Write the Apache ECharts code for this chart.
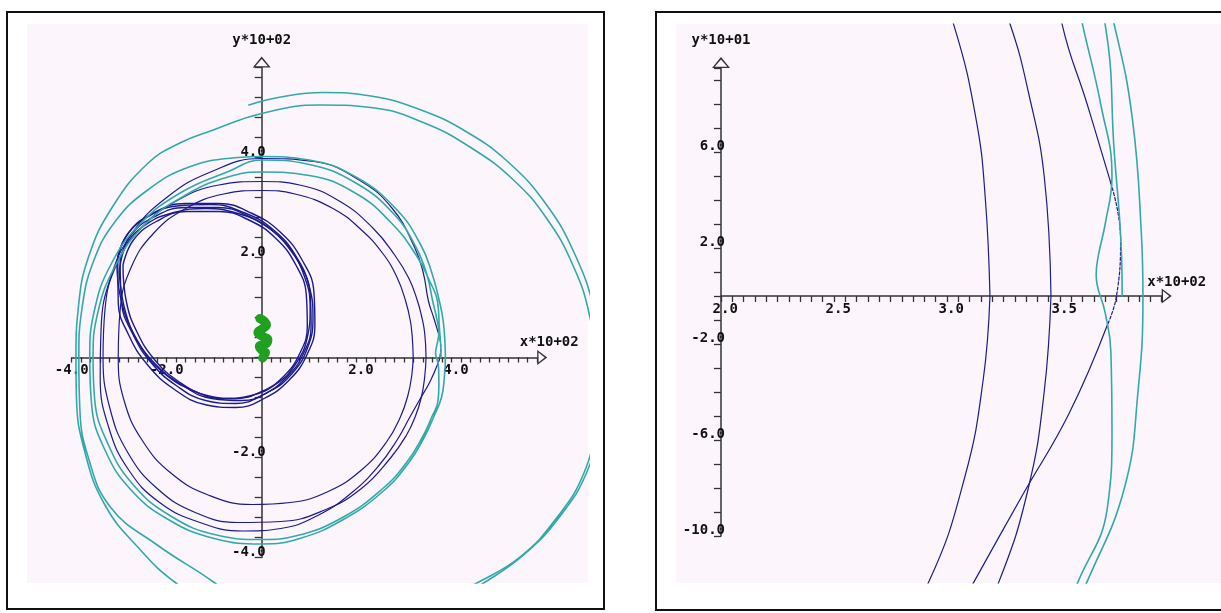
<!DOCTYPE html>
<html>
<head>
<meta charset="utf-8">
<script src="https://cdn.jsdelivr.net/npm/echarts@6.0.0/dist/echarts.min.js"></script>
<style>
  html, body { margin: 0; padding: 0; background: #ffffff; }
  #chart { width: 1221px; height: 613px; }
</style>
</head>
<body>
<div id="chart"></div>
<script>
// ---------------- trajectory data (x, y) ----------------
// inner family of navy loops
const smallLoop1 = [[-303,200],[-280,250],[-230,288],[-160,308],[-90,308],[-20,288],[40,250],[85,195],[110,130],[112,65],[95,5],[58,-45],[5,-82],[-55,-100],[-120,-94],[-185,-63],[-240,-15],[-280,45],[-302,110],[-303,200]];
const smallLoop2 = [[-298,195],[-276,244],[-227,281],[-160,300],[-92,300],[-25,281],[34,244],[78,190],[102,127],[104,65],[88,8],[52,-40],[2,-75],[-55,-92],[-118,-86],[-180,-56],[-233,-10],[-272,48],[-295,110],[-298,195]];
const smallLoop3 = [[-305,190],[-287,240],[-242,280],[-178,303],[-108,306],[-38,290],[25,255],[72,203],[100,142],[108,78],[96,18],[64,-32],[16,-68],[-42,-86],[-105,-82],[-168,-55],[-225,-12],[-268,45],[-296,115],[-305,190]];
const smallLoop4 = [[-292,185],[-270,235],[-222,272],[-158,292],[-90,292],[-25,274],[30,238],[72,185],[94,124],[96,62],[80,8],[46,-38],[0,-68],[-55,-82],[-115,-76],[-175,-48],[-225,-5],[-262,50],[-285,112],[-292,185]];
const smallLoop5 = [[-300,170],[-285,225],[-245,265],[-185,290],[-118,298],[-50,288],[10,262],[58,218],[90,162],[102,100],[96,40],[72,-12],[32,-52],[-22,-76],[-82,-82],[-145,-66],[-205,-32],[-252,18],[-285,85],[-300,170]];

// outer navy loops
const bigLoop1 = [[319,0],[317,40],[313,73],[303,113],[285,160],[255,208],[210,255],[150,298],[70,327],[0,334],[-80,327],[-160,298],[-228,248],[-275,180],[-298,95],[-302,0],[-290,-85],[-252,-165],[-190,-232],[-110,-276],[-20,-294],[60,-290],[140,-268],[210,-225],[262,-170],[292,-119],[308,-75],[316,-35],[319,0]];
const bigLoop2 = [[346,0],[343,50],[336,85],[328,113],[310,158],[280,205],[235,258],[165,312],[80,345],[0,352],[-90,345],[-180,313],[-255,258],[-306,185],[-330,95],[-334,0],[-320,-100],[-282,-190],[-220,-262],[-140,-310],[-50,-330],[40,-328],[130,-306],[210,-262],[272,-200],[305,-155],[323,-119],[336,-80],[343,-40],[346,0]];
// eccentric loop: main arc, plus the faint dotted stretch around its apex
const eccentricLoop = [[371,-12],[354,-49],[334,-82],[312,-119],[285,-165],[245,-218],[190,-270],[120,-315],[40,-342],[-40,-347],[-130,-330],[-215,-290],[-280,-225],[-322,-140],[-340,-40],[-338,60],[-318,160],[-272,250],[-200,320],[-110,370],[0,398],[110,392],[205,355],[275,298],[322,220],[340,170],[351,113],[362,80],[372.5,47]];
const eccentricApex = [[362,80],[372.5,47],[376.8,24],[375,0],[371,-12],[354,-49]];

// teal track, from its outer end inwards
const tealTrack = [
  [-27,505],[40,521],[129,530],[230,523],[330,497],[430,452],[520,390],[600,305],[660,205],[700,95],[718,-20],[712,-130],[685,-228],[630,-315],[555,-392],[469,-450],[370,-505],[250,-545],[100,-560],[-50,-530],[-182,-450],[-260,-380],[-330,-295],[-372,-190],[-390,-80],[-391,0],[-386,100],[-365,200],[-315,300],[-240,388],[-170,430],[-102,455],
  [0,488],[123,505],[230,500],[340,470],[440,420],[530,355],[600,278],[655,185],[690,85],[705,-30],[700,-140],[678,-232],[620,-322],[545,-398],[455,-450],[350,-500],[220,-528],[80,-530],[-30,-505],[-100,-450],[-220,-375],[-317,-301],[-365,-200],[-383,-100],[-385,0],[-378,100],[-355,190],[-310,270],[-240,335],[-150,382],[-50,400],
  [0,402],[100,395],[200,360],[285,295],[335,225],[358,170],[374,113],[382,74],[386,26],[386.7,0],[384.5,-40],[378.5,-80],[362,-119],[342,-160],[310,-210],[255,-268],[170,-325],[80,-362],[0,-373],[-100,-362],[-195,-325],[-275,-265],[-330,-185],[-358,-95],[-362,0],[-352,95],[-318,185],[-258,265],[-170,330],[-70,372],
  [0,395],[100,386],[200,348],[280,285],[325,220],[348,165],[360,113],[368,80],[373,50],[370,30],[367,17],[366,9],[370,-7],[372.5,-23],[373,-56],[371,-88],[358,-119],[338,-160],[305,-210],[255,-262],[170,-320],[75,-356],[0,-364],[-95,-355],[-190,-318],[-270,-255],[-325,-170],[-352,-80],[-355,0],[-345,90],[-310,180],[-250,262],[-160,325],[-60,364],
  [0,371],[100,364],[195,330],[270,272],[325,205],[355,150],[370,113],[374,60],[377,22],[377.5,0]
];

// green track near the origin
const greenTrack = [[-4,78],[6,72],[10,65],[2,58],[-8,50],[0,43],[13,36],[10,28],[-5,22],[0,15],[8,10],[5,4],[2,-1]];

// tick label positions
const leftXLabelValues = [-400, -200, 200, 400];
const leftYLabelValues = [-400, -200, 200, 400];
const rightXLabelValues = [200, 250, 300, 350];
const rightYLabelValues = [-100, -60, -20, 20, 60];

// axis titles
const leftXName = 'x*10+02', leftYName = 'y*10+02';
const rightXName = 'x*10+02', rightYName = 'y*10+01';

// ---------------- layout ----------------
const LAV = '#fcf6fc';
const NAVY = '#1b1b8b';
const TEAL = '#31a9a9';
const GREEN = '#1fa01f';
const AXIS = '#333333';
const FONT = 'DejaVu Sans Mono';

const panels = [
  { // full view
    axisBox: { left: 71.7, top: 67.5, width: 465.5, height: 490 },
    plotBox: { left: 27, top: 24, width: 561, height: 559 },
    xRange: [-400, 580], yRange: [-400, 580],
    xInterval: 20, yInterval: 40,
    xLabels: leftXLabelValues, yLabels: leftYLabelValues,
    xDiv: 100, yDiv: 100,
    xName: leftXName, yName: leftYName,
    xNameGap: 12, xNameLift: 15, yNameGap: 27.5,
    xTickLen: 5, yTickLen: 7
  },
  { // close-up view
    axisBox: { left: 721, top: 68, width: 440.7, height: 468 },
    plotBox: { left: 676, top: 24, width: 545, height: 559 },
    xRange: [200, 395], yRange: [-100, 95],
    xInterval: 5, yInterval: 10,
    xLabels: rightXLabelValues, yLabels: rightYLabelValues,
    xDiv: 100, yDiv: 10,
    xName: rightXName, yName: rightYName,
    xNameGap: 15, xNameLift: 13.5, yNameGap: 28,
    xTickLen: 6, yTickLen: 7
  }
];

// hollow arrow heads, drawn pointing up (ECharts rotates them onto the axis)
const arrowY = 'path://M9,0 L18,11 L0,11 Z M9,2.6 L2.7,9.7 L15.3,9.7 Z';
const arrowX = 'path://M7.5,0 L15,10 L0,10 Z M7.5,2.5 L2.5,8.7 L12.5,8.7 Z';

// data-grid extents that keep the same scale as the drawn axes
function extents(p) {
  const a = p.axisBox, b = p.plotBox;
  const kx = (p.xRange[1] - p.xRange[0]) / a.width;
  const ky = (p.yRange[1] - p.yRange[0]) / a.height;
  return {
    x: [p.xRange[0] + (b.left - a.left) * kx, p.xRange[0] + (b.left + b.width - a.left) * kx],
    y: [p.yRange[0] - (b.top + b.height - a.top - a.height) * ky, p.yRange[1] + (a.top - b.top) * ky]
  };
}

// distance (px) from the grid edge to the zero line, used to move each axis onto it
function zeroShift(range, size) {
  if (range[0] >= 0 || range[1] <= 0) return 0;
  return (0 - range[0]) / (range[1] - range[0]) * size;
}

const grid = [], xAxis = [], yAxis = [], series = [];
const labelFont = { color: '#111', fontFamily: FONT, fontWeight: 'bold', fontSize: 14 };

panels.forEach(function (p) {
  const e = extents(p);
  const dataIdx = grid.length;
  grid.push(Object.assign({ show: true, backgroundColor: LAV, borderWidth: 0, z: -1 }, p.plotBox));
  xAxis.push({ gridIndex: dataIdx, type: 'value', min: e.x[0], max: e.x[1], show: false });
  yAxis.push({ gridIndex: dataIdx, type: 'value', min: e.y[0], max: e.y[1], show: false });

  const axIdx = grid.length;
  grid.push(Object.assign({ show: false }, p.axisBox));
  xAxis.push({
    gridIndex: axIdx, type: 'value', position: 'bottom',
    offset: -zeroShift(p.yRange, p.axisBox.height),
    min: p.xRange[0], max: p.xRange[1], interval: p.xInterval,
    splitLine: { show: false },
    axisLine: { onZero: false, lineStyle: { color: AXIS, width: 1.5 }, symbol: ['none', arrowX], symbolSize: [15, 10], symbolOffset: [0, 5] },
    axisTick: { length: p.xTickLen, lineStyle: { color: AXIS, width: 1.3 } },
    axisLabel: Object.assign({
      margin: 6, align: 'center', verticalAlign: 'top',
      formatter: function (v) {
        if (p.xLabels.indexOf(v) < 0) return '';
        const t = (v / p.xDiv).toFixed(1);
        return v < 0 ? t : ' ' + t;
      }
    }, labelFont),
    name: p.xName, nameLocation: 'end', nameGap: p.xNameGap,
    nameTextStyle: Object.assign({ align: 'center', verticalAlign: 'bottom', lineHeight: p.xNameLift * 2 }, labelFont)
  });
  yAxis.push({
    gridIndex: axIdx, type: 'value', position: 'left',
    offset: -zeroShift(p.xRange, p.axisBox.width),
    min: p.yRange[0], max: p.yRange[1], interval: p.yInterval,
    splitLine: { show: false },
    axisLine: { onZero: false, lineStyle: { color: AXIS, width: 1.5 }, symbol: ['none', arrowY], symbolSize: [18, 11], symbolOffset: [0, 5.5] },
    axisTick: { length: p.yTickLen, lineStyle: { color: AXIS, width: 1.3 } },
    axisLabel: Object.assign({
      margin: -4, align: 'right', verticalAlign: 'bottom', lineHeight: 11,
      formatter: function (v) {
        if (p.yLabels.indexOf(v) < 0) return '';
        return (v / p.yDiv).toFixed(1);
      }
    }, labelFont),
    name: p.yName, nameLocation: 'end', nameGap: p.yNameGap,
    nameTextStyle: Object.assign({ align: 'center', verticalAlign: 'middle' }, labelFont)
  });

  function line(data, color, width, z, dash) {
    series.push({
      type: 'line', data: data, xAxisIndex: dataIdx, yAxisIndex: dataIdx,
      showSymbol: false, symbol: 'none', smooth: 0.45, clip: true, silent: true, z: z,
      lineStyle: { color: color, width: width, cap: 'round', join: 'round', type: dash || 'solid' }
    });
  }
  [smallLoop1, smallLoop2, smallLoop3, smallLoop4, smallLoop5].forEach(function (d) { line(d, NAVY, 1.4, 3); });
  [bigLoop1, bigLoop2, eccentricLoop].forEach(function (d) { line(d, NAVY, 1.2, 3); });
  line(eccentricApex.slice(1, 5), NAVY, 1.2, 3, [3, 2]);
  line(tealTrack, TEAL, 1.6, 4);
  line(greenTrack, GREEN, 9, 5);
});

const chart = echarts.init(document.getElementById('chart'), null, { renderer: 'canvas' });
chart.setOption({
  animation: false,
  backgroundColor: '#ffffff',
  grid: grid, xAxis: xAxis, yAxis: yAxis, series: series,
  graphic: [
    { type: 'rect', z: -10, shape: { x: 7, y: 12, width: 597, height: 597 }, style: { fill: 'none', stroke: '#111', lineWidth: 2 } },
    { type: 'rect', z: -10, shape: { x: 656, y: 12, width: 600, height: 598 }, style: { fill: 'none', stroke: '#111', lineWidth: 2 } }
  ]
});
</script>
</body>
</html>
